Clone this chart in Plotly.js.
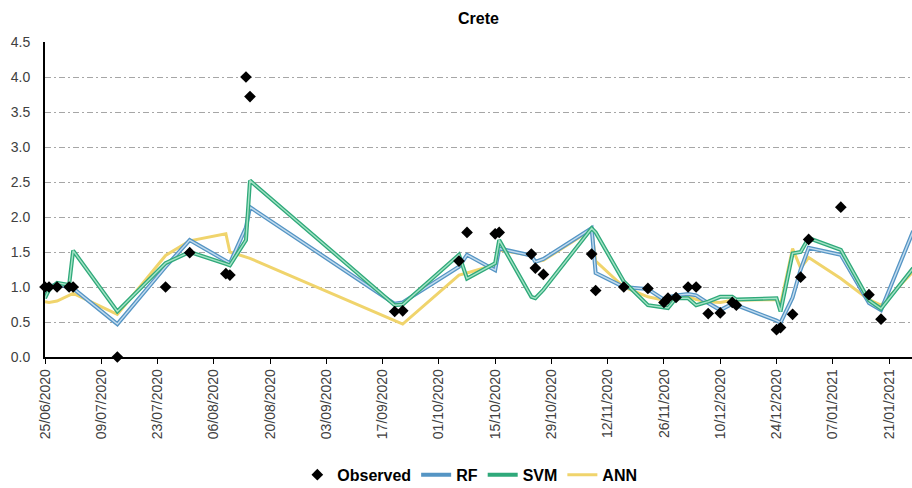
<!DOCTYPE html>
<html>
<head>
<meta charset="utf-8">
<script src="https://cdn.plot.ly/plotly-3.0.1.min.js"></script>
<style>
  html, body { margin: 0; padding: 0; background: #ffffff; }
  #chart { width: 912px; height: 488px; }
</style>
</head>
<body>
<div id="chart"></div>
<script>
// Observation dates and measured values
const obsDates = [
  '2020-06-25','2020-06-26','2020-06-28','2020-07-01','2020-07-02','2020-07-13',
  '2020-07-25','2020-07-31','2020-08-09','2020-08-10','2020-08-14','2020-08-15',
  '2020-09-20','2020-09-22','2020-10-06','2020-10-08','2020-10-15','2020-10-16',
  '2020-10-24','2020-10-25','2020-10-27','2020-11-08','2020-11-09','2020-11-16',
  '2020-11-22','2020-11-26','2020-11-27','2020-11-29','2020-12-02','2020-12-04',
  '2020-12-07','2020-12-10','2020-12-13','2020-12-14','2020-12-24','2020-12-25',
  '2020-12-28','2020-12-30','2021-01-01','2021-01-09','2021-01-16','2021-01-19'
];
const observed = [
  1.00, 1.00, 1.00, 1.00, 1.00, 0.00,
  1.00, 1.49, 1.19, 1.17, 4.00, 3.72,
  0.65, 0.66, 1.37, 1.78, 1.76, 1.78,
  1.47, 1.27, 1.18, 1.47, 0.95, 1.00,
  0.98, 0.78, 0.84, 0.85, 1.00, 1.00,
  0.62, 0.63, 0.78, 0.74, 0.39, 0.42,
  0.61, 1.14, 1.68, 2.14, 0.89, 0.54
];

// Model predictions share the observation dates, plus one more date
const modelDates = obsDates.concat(['2021-01-27']);
const rf = [
  0.93, 1.00, 1.04, 1.00, 0.98, 0.47,
  1.29, 1.67, 1.38, 1.34, 1.85, 2.14,
  0.76, 0.78, 1.29, 1.46, 1.24, 1.55,
  1.45, 1.36, 1.40, 1.84, 1.20, 1.00,
  0.97, 0.82, 0.85, 0.88, 0.90, 0.88,
  0.77, 0.67, 0.76, 0.74, 0.52, 0.49,
  0.85, 1.25, 1.56, 1.46, 0.77, 0.67,
  1.80
];
const svm = [
  0.84, 0.96, 1.06, 1.03, 1.52, 0.65,
  1.34, 1.50, 1.33, 1.31, 1.67, 2.52,
  0.74, 0.75, 1.46, 1.12, 1.34, 1.67,
  0.86, 0.84, 0.96, 1.84, 1.78, 1.08,
  0.74, 0.70, 0.70, 0.84, 0.84, 0.74,
  0.79, 0.86, 0.86, 0.82, 0.84, 0.65,
  1.48, 1.50, 1.70, 1.53, 0.81, 0.69,
  1.27
];
const ann = [
  0.79, 0.78, 0.80, 0.88, 0.91, 0.61,
  1.45, 1.66, 1.76, 1.50, 1.42, 1.41,
  0.52, 0.47, 1.17, 1.20, 1.32, 1.53,
  1.45, 1.36, 1.38, 1.82, 1.37, 1.00,
  0.86, 0.81, 0.81, 0.85, 0.87, 0.82,
  0.79, 0.78, 0.81, 0.81, 0.82, 0.75,
  1.55, 1.27, 1.42, 1.12, 0.82, 0.74,
  1.22
];

const FONT = 'Arial, "Liberation Sans", sans-serif';
const DAY = 86400000;

// A two-tone line: darker outer stroke with a lighter core
function doubleLine(name, y, outer, inner, rank) {
  return [
    { x: modelDates, y: y, name: name, type: 'scatter', mode: 'lines',
      line: { color: outer, width: 4 }, legendgroup: name, legendrank: rank,
      hoverinfo: 'skip' },
    { x: modelDates, y: y, name: name, type: 'scatter', mode: 'lines',
      line: { color: inner, width: 1.4 }, legendgroup: name, showlegend: false,
      hoverinfo: 'skip' }
  ];
}

const traces = [
  { x: modelDates, y: ann, name: 'ANN', type: 'scatter', mode: 'lines',
    line: { color: '#f0d46c', width: 3 }, legendrank: 4, hoverinfo: 'skip' }
].concat(
  doubleLine('RF', rf, '#5595c4', '#c3dcef', 2),
  doubleLine('SVM', svm, '#2fa97a', '#a5e3c6', 3),
  [{ x: obsDates, y: observed, name: 'Observed', type: 'scatter', mode: 'markers',
     marker: { symbol: 'diamond', size: 9, color: '#000000' },
     cliponaxis: false, legendrank: 1 }]
);

const layout = {
  width: 912, height: 488,
  margin: { l: 45, r: 0, t: 42, b: 131, autoexpand: false },
  paper_bgcolor: '#ffffff', plot_bgcolor: '#ffffff',
  font: { family: FONT, color: '#404040' },
  title: { text: 'Crete', x: 0.5, xref: 'paper', y: 0.963, yref: 'container',
           yanchor: 'middle',
           font: { family: FONT, size: 16, weight: 'bold', color: '#000000' } },
  xaxis: {
    type: 'date',
    range: ['2020-06-25', '2021-01-26 17:00'],
    tickmode: 'linear', tick0: '2020-06-25', dtick: 14 * DAY,
    tickformat: '%d/%m/%Y', tickangle: -90,
    ticks: 'outside', ticklen: 5, tickcolor: '#000000', tickwidth: 1,
    showline: true, linecolor: '#000000', linewidth: 1.5,
    showgrid: false, zeroline: false, automargin: false,
    tickfont: { family: FONT, size: 14, color: '#404040' }
  },
  yaxis: {
    range: [0, 4.5], tick0: 0, dtick: 0.5, tickformat: '.1f',
    showline: true, linecolor: '#000000', linewidth: 2,
    showgrid: true, gridcolor: '#a6a6a6', gridwidth: 1,
    griddash: '6px,3px,2px,3px',
    zeroline: false, ticks: '', ticklabelstandoff: 10, automargin: false,
    tickfont: { family: FONT, size: 14, color: '#404040' }
  },
  showlegend: true,
  legend: {
    orientation: 'h', x: 0.49, xanchor: 'center',
    yref: 'container', y: 0.027, yanchor: 'middle',
    font: { family: FONT, size: 16, weight: 'bold', color: '#000000' },
    itemwidth: 30, bgcolor: 'rgba(0,0,0,0)'
  }
};

Plotly.newPlot('chart', traces, layout, { staticPlot: true, displayModeBar: false });
</script>
</body>
</html>
